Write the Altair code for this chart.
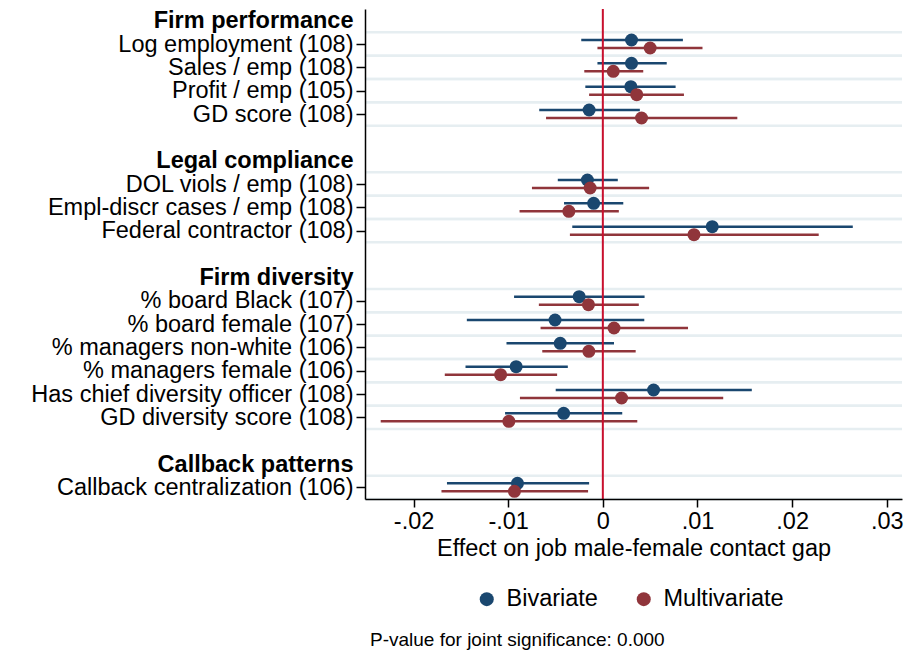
import json
import altair as alt
import pandas as pd

# ---------------- data ----------------
groups = ["Firm performance", "Legal compliance", "Firm diversity", "Callback patterns"]
items = [
    ["Log employment (108)", "Sales / emp (108)", "Profit / emp (105)", "GD score (108)"],
    ["DOL viols / emp (108)", "Empl-discr cases / emp (108)", "Federal contractor (108)"],
    ["% board Black (107)", "% board female (107)", "% managers non-white (106)",
     "% managers female (106)", "Has chief diversity officer (108)", "GD diversity score (108)"],
    ["Callback centralization (106)"],
]
models = ["Bivariate", "Multivariate"]

biv_est = [0.00303, 0.00303, 0.00296, -0.00145, -0.00163, -0.00097, 0.01156,
           -0.00250, -0.00505, -0.00450, -0.00916, 0.00536, -0.00414, -0.00902]
biv_lo = [-0.00228, -0.00057, -0.00185, -0.00672, -0.00476, -0.00410, -0.00323,
          -0.00938, -0.01437, -0.01018, -0.01451, -0.00498, -0.01033, -0.01647]
biv_hi = [0.00846, 0.00675, 0.00769, 0.00391, 0.00158, 0.00216, 0.02641,
          0.00441, 0.00438, 0.00118, -0.00370, 0.01574, 0.00205, -0.00145]

mul_est = [0.00500, 0.00110, 0.00358, 0.00409, -0.00134, -0.00359, 0.00963,
           -0.00152, 0.00118, -0.00148, -0.01080, 0.00198, -0.00993, -0.00934]
mul_lo = [-0.00057, -0.00196, -0.00145, -0.00600, -0.00749, -0.00880, -0.00348,
          -0.00676, -0.00658, -0.00640, -0.01670, -0.00876, -0.02347, -0.01705]
mul_hi = [0.01053, 0.00427, 0.00857, 0.01421, 0.00489, 0.00169, 0.02281,
          0.00380, 0.00900, 0.00347, -0.00483, 0.01272, 0.00364, -0.00156]

x_ticks = [-0.02, -0.01, 0, 0.01, 0.02, 0.03]
zero_ref = [0]
note_text = "P-value for joint significance: 0.000"
x_title = "Effect on job male-female contact gap"

# ---------------- row layout ----------------
rows_label, rows_kind, item_rows = [], [], []
for gi, g in enumerate(groups):
    rows_label.append(g)
    rows_kind.append("header")
    for it in items[gi]:
        item_rows.append(len(rows_label))
        rows_label.append(it)
        rows_kind.append("item")
    if gi < len(groups) - 1:
        rows_label.append("")
        rows_kind.append("blank")
n_rows = len(rows_label)
header_rows = [i for i, k in enumerate(rows_kind) if k == "header"]
label_rows = [i for i, k in enumerate(rows_kind) if k != "blank"]

recs = []
for j, r in enumerate(item_rows):
    recs.append(dict(row=r, label=rows_label[r], model="Bivariate",
                     est=biv_est[j], lo=biv_lo[j], hi=biv_hi[j]))
    recs.append(dict(row=r, label=rows_label[r], model="Multivariate",
                     est=mul_est[j], lo=mul_lo[j], hi=mul_hi[j]))
df = pd.DataFrame(recs)
df_rows = pd.DataFrame({"row": item_rows})
df_zero = pd.DataFrame({"x": zero_ref})

# ---------------- styling ----------------
BLUE = "#1a476f"
RED = "#90353b"
ZERO = "#c8102e"
GRID = "#e6eef1"
FONT = "Liberation Sans"
FS = 23.5
W, H = 537, 490

xscale = alt.Scale(domain=[-0.02513, 0.03161], nice=False, zero=False)
yscale = alt.Scale(domain=[-0.5, n_rows - 0.5], reverse=True, nice=False, zero=False)

is_header = f"indexof({json.dumps(header_rows)}, datum.value) >= 0"

x_axis = alt.Axis(
    values=x_ticks,
    labelExpr="replace(replace(format(datum.value, '.2~f'), '\u2212', '-'), '0.', '.')",
    title=x_title, titleFontSize=FS, titleFontWeight="normal", titleColor="black",
    titlePadding=4, labelFontSize=FS, labelColor="black", labelPadding=2,
    tickSize=8, tickWidth=1.5, tickColor="black", domainColor="black",
    domainWidth=1.5, grid=False, zindex=1, labelFlush=False, labelOverlap=False,
)
y_axis = alt.Axis(
    values=label_rows,
    labelExpr=f"{json.dumps(rows_label)}[datum.value]",
    title=None, grid=False, labelOverlap=False, labelLimit=0, labelFontSize=FS,
    labelColor="black", labelPadding=3, tickSize=9, tickWidth=1.5,
    labelFontWeight={"condition": {"test": is_header, "value": "bold"}, "value": "normal"},
    tickColor={"condition": {"test": is_header, "value": "transparent"}, "value": "black"},
    domainColor="black", domainWidth=1.5, zindex=1,
)

color_scale = alt.Scale(domain=models, range=[BLUE, RED])
legend = alt.Legend(
    title=None, orient="none", legendX=110, legendY=578, direction="horizontal",
    labelFontSize=FS, labelColor="black", symbolSize=196, symbolType="circle",
    symbolStrokeWidth=0, columnPadding=34, labelOffset=8,
)

grid_top = alt.Chart(df_rows).transform_calculate(gy="datum.row - 0.5").mark_rule(
    color=GRID, strokeWidth=2.5).encode(y=alt.Y("gy:Q", scale=yscale, axis=y_axis))
grid_bot = alt.Chart(df_rows).transform_calculate(gy="datum.row + 0.5").mark_rule(
    color=GRID, strokeWidth=2.5).encode(y=alt.Y("gy:Q", scale=yscale, axis=y_axis))

zero_line = alt.Chart(df_zero).mark_rule(color=ZERO, strokeWidth=2).encode(
    x=alt.X("x:Q", scale=xscale, axis=x_axis))

ci_layers, pt_layers = [], []
for m, col, off in [("Bivariate", BLUE, -4), ("Multivariate", RED, 4)]:
    base = alt.Chart(df).transform_filter(alt.datum.model == m)
    ci = base.mark_rule(color=col, strokeWidth=2.5, yOffset=off).encode(
        x=alt.X("lo:Q", scale=xscale, axis=x_axis), x2="hi:Q",
        y=alt.Y("row:Q", scale=yscale, axis=y_axis))
    pt = base.mark_circle(size=169, opacity=1, yOffset=off).encode(
        x=alt.X("est:Q", scale=xscale, axis=x_axis),
        y=alt.Y("row:Q", scale=yscale, axis=y_axis),
        color=alt.Color("model:N", scale=color_scale, legend=legend))
    ci_layers.append(ci)
    pt_layers.append(pt)

layers = [grid_top, grid_bot] + ci_layers + [zero_line] + pt_layers

chart = alt.layer(*layers).properties(
    width=W, height=H,
    padding={"left": 22, "top": 0, "right": 5, "bottom": 0},
    title=alt.TitleParams(note_text, orient="bottom", anchor="start", frame="group",
                          fontSize=19, fontWeight="normal", color="black", font=FONT,
                          offset=20, dx=5),
).configure(font=FONT, background="white").configure_view(stroke=None)

chart.save("out.html", embed_options={"renderer": "svg", "actions": False})
